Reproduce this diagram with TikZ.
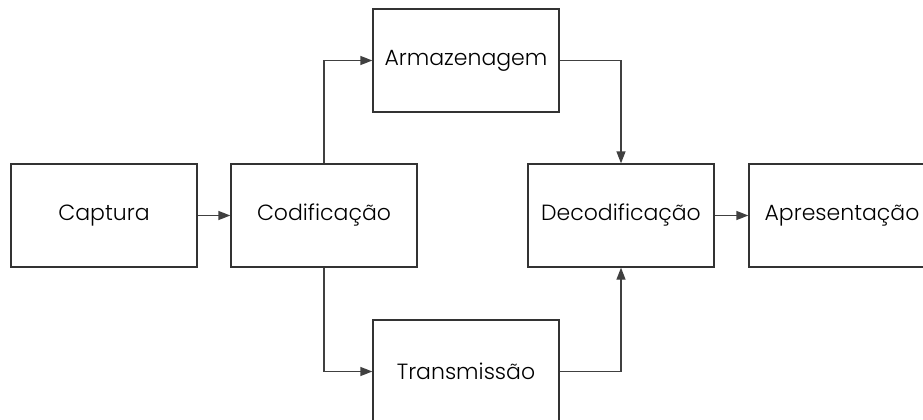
\documentclass[tikz,border=0pt]{standalone}
\usepackage{fontspec}
\setmainfont{Poppins}[UprightFont=* Light]
\usetikzlibrary{arrows.meta}
\begin{document}
\begin{tikzpicture}[x=1pt,y=-1pt,
  block/.style={draw=black!80, line width=1.3pt, minimum width=186pt, minimum height=103pt,
    inner sep=0pt, font=\fontsize{22}{26}\selectfont},
  link/.style={draw=black!75, line width=1.3pt, -{Triangle[length=12pt,width=9pt]}}]
\useasboundingbox (0,0) rectangle (923,420);
\node[block] (cap) at (104,215.5) {Captura};
\node[block] (cod) at (324,215.5) {Codificação};
\node[block] (arm) at (466,60.5) {Armazenagem};
\node[block] (tra) at (466,371.5) {Transmissão};
\node[block] (dec) at (621,215.5) {Decodificação};
\node[block] (apr) at (842,215.5) {Apresentação};
\draw[link] (cap.east) -- (cod.west);
\draw[link] (cod.north) |- (arm.west);
\draw[link] (cod.south) |- (tra.west);
\draw[link] (arm.east) -| (dec.north);
\draw[link] (tra.east) -| (dec.south);
\draw[link] (dec.east) -- (apr.west);
\end{tikzpicture}
\end{document}
